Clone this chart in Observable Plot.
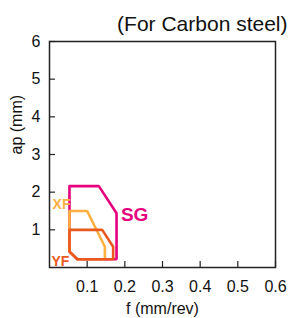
<!DOCTYPE html>
<html>
<head>
<meta charset="utf-8">
<script src="https://cdn.jsdelivr.net/npm/d3@7"></script>
<script src="https://cdn.jsdelivr.net/npm/@observablehq/plot@0.6"></script>
<style>
  html, body { margin: 0; padding: 0; background: #fff; }
  #chart svg { display: block; }
</style>
</head>
<body>
<div id="chart"></div>
<script>
const title = "(For Carbon steel)";
const xLabel = "f (mm/rev)";
const yLabel = "ap (mm)";
const xTicks = [0.1, 0.2, 0.3, 0.4, 0.5, 0.6];
const xTickLabels = ["0.1", "0.2", "0.3", "0.4", "0.5", "0.6"];
const yTicks = [1, 2, 3, 4, 5, 6];
const yTickLabels = ["1", "2", "3", "4", "5", "6"];

const series = ["SG", "XF", "YF"];
const colors = ["#e6007e", "#fbb040", "#ea5a1e"];
// polygon outlines (closed)
const sgF  = [0.053, 0.131, 0.178, 0.178, 0.074, 0.053, 0.053];
const sgAp = [2.16, 2.16, 1.44, 0.22, 0.22, 0.42, 2.16];
const xfF  = [0.053, 0.100, 0.147, 0.147, 0.074, 0.053, 0.053];
const xfAp = [1.50, 1.50, 0.55, 0.22, 0.22, 0.42, 1.50];
const yfF  = [0.053, 0.140, 0.169, 0.169, 0.074, 0.053, 0.053];
const yfAp = [1.00, 1.00, 0.55, 0.22, 0.22, 0.42, 1.00];
// label anchor positions (data units)
const labelF  = [0.226, 0.032, 0.029];
const labelAp = [1.40, 1.66, 0.17];
const labelSize = [19, 14, 14];

const fs = [sgF, xfF, yfF];
const aps = [sgAp, xfAp, yfAp];
const outline = series.flatMap((s, i) => fs[i].map((f, j) => ({s, f, ap: aps[i][j], color: colors[i]})));
const labels = series.map((s, i) => ({s, f: labelF[i], ap: labelAp[i], color: colors[i], size: labelSize[i]}));

const chart = Plot.plot({
  width: 289,
  height: 318,
  marginLeft: 49,
  marginRight: 14,
  marginTop: 41,
  marginBottom: 51,
  style: {fontFamily: "'Liberation Sans', Arial, sans-serif", background: "#fff", color: "#222"},
  x: {domain: [0, 0.6]},
  y: {domain: [0, 6]},
  marks: [
    Plot.axisX({ticks: xTicks, tickSize: -6, fill: "none", label: null, strokeWidth: 1.2}),
    Plot.axisX({ticks: xTicks, tickSize: 0, tickPadding: 13, tickFormat: (d, i) => xTickLabels[i], fontSize: 16, label: null, fill: "#111"}),
    Plot.axisY({ticks: yTicks, tickSize: -6, fill: "none", label: null, strokeWidth: 1.2}),
    Plot.axisY({ticks: yTicks, tickSize: 0, tickPadding: 9, tickFormat: (d, i) => yTickLabels[i], fontSize: 16, label: null, fill: "#111"}),
    Plot.frame({stroke: "#222", strokeWidth: 1.5}),
    Plot.line(outline, {x: "f", y: "ap", z: "s", stroke: "color", strokeWidth: 2.6, strokeLinejoin: "miter"}),
    Plot.text(labels, {x: "f", y: "ap", text: "s", fill: "color", fontSize: "size", fontWeight: "bold"}),
    Plot.text([title], {frameAnchor: "top-right", textAnchor: "end", lineAnchor: "bottom", dx: 12, dy: -11, fontSize: 21, fill: "#111"}),
    Plot.text([xLabel], {frameAnchor: "bottom", lineAnchor: "bottom", dy: 46, fontSize: 16, fill: "#111"}),
    Plot.text([yLabel], {frameAnchor: "left", rotate: -90, lineAnchor: "middle", dx: -33, fontSize: 16, fill: "#111"})
  ]
});
document.getElementById("chart").appendChild(chart);
</script>
</body>
</html>
